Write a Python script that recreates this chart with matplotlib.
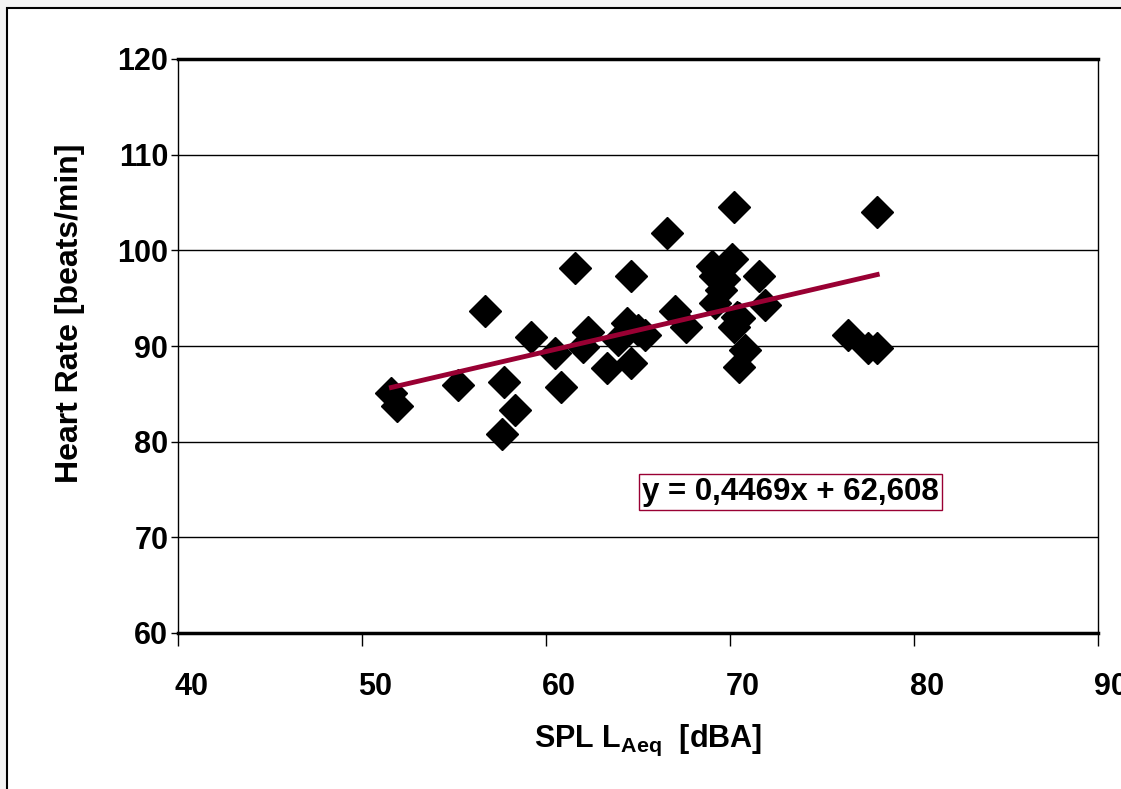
import numpy as np
import matplotlib
matplotlib.use("Agg")
import matplotlib.pyplot as plt
from matplotlib.patches import Rectangle
from matplotlib.transforms import ScaledTranslation

plt.rcParams['font.family'] = ['Liberation Sans', 'DejaVu Sans']
plt.rcParams['font.weight'] = 'bold'

# SPL LAeq [dBA] and heart rate [beats/min]
spl = [51.6, 51.9, 55.2, 56.7, 57.7, 57.6, 58.3, 59.2, 60.5, 60.8,
       61.6, 62.0, 62.3, 63.3, 63.9, 64.4, 64.6, 64.6, 65.0, 65.4,
       66.6, 67.0, 67.6, 69.0, 69.2, 69.2, 69.5, 69.7, 70.1, 70.2,
       70.4, 70.2, 70.5, 70.8, 70.5, 71.6, 71.9, 76.4, 77.5, 78.0, 78.0]
hr = [85.1, 83.7, 85.9, 93.7, 86.2, 80.8, 83.3, 90.9, 89.3, 85.7,
      98.2, 89.9, 91.5, 87.7, 90.6, 92.4, 97.3, 88.2, 91.7, 91.2,
      101.8, 93.7, 92.0, 98.4, 97.3, 94.5, 95.9, 97.0, 99.1, 104.5,
      93.0, 92.0, 92.9, 89.6, 87.8, 97.3, 94.3, 91.2, 89.8, 89.8, 104.0]

slope = 0.4469
intercept = 62.608

fig = plt.figure(figsize=(11.21, 7.89), dpi=100, facecolor='#f3f3f3')
frame = Rectangle((7/1121, -0.05), 1.1, 1 - 8/789 + 0.05,
                  transform=fig.transFigure, facecolor='white',
                  edgecolor='black', linewidth=1.5, zorder=-10)
fig.patches.append(frame)

ax = fig.add_axes([178/1121, 1 - 633/789, 920/1121, 574/789])
ax.set_facecolor('white')
ax.set_xlim(40, 90)
ax.set_ylim(60, 120)
ax.set_xticks(np.arange(40, 91, 10))
ax.set_yticks(np.arange(60, 121, 10))
ax.grid(axis='y', color='black', linewidth=1)
ax.set_axisbelow(True)
for s in ax.spines.values():
    s.set_linewidth(1)
ax.spines['bottom'].set_linewidth(2.5)
ax.spines['top'].set_linewidth(2.5)

ax.tick_params(axis='x', direction='out', length=9, width=1, pad=19, labelsize=22)
ax.tick_params(axis='y', direction='out', length=5, width=1, pad=2, labelsize=22)
shift = ScaledTranslation(-4/100, 0, fig.dpi_scale_trans)
for lab in ax.get_xticklabels():
    lab.set_fontweight('bold')
    lab.set_horizontalalignment('left')
    lab.set_transform(lab.get_transform() + shift)
for lab in ax.get_yticklabels():
    lab.set_fontweight('bold')

ax.plot(spl, hr, linestyle='none', marker='D', markersize=16,
        color='black', zorder=3)

xs = np.array([min(spl), max(spl)])
ax.plot(xs, slope * xs + intercept, color='#990033', linewidth=3.5, zorder=4)

ax.text(73.3, 74.7, 'y = 0,4469x + 62,608', fontsize=22.5, fontweight='bold',
        ha='center', va='center',
        bbox=dict(boxstyle='square,pad=0.1', facecolor='white',
                  edgecolor='#990033', linewidth=1))

ax.set_ylabel('Heart Rate [beats/min]', fontsize=23, fontweight='bold')
ax.yaxis.label.set_verticalalignment('center')
ax.yaxis.set_label_coords((70 - 178) / 920, (633 - 313) / 574)
ax.set_xlabel(r'SPL L$_{\mathregular{Aeq}}$  [dBA]', fontsize=22,
              fontweight='bold')
ax.xaxis.set_label_coords((648 - 178) / 920, (633 - 740) / 574)
ax.xaxis.label.set_verticalalignment('center')

fig.savefig('out.png', dpi=100, facecolor=fig.get_facecolor())
